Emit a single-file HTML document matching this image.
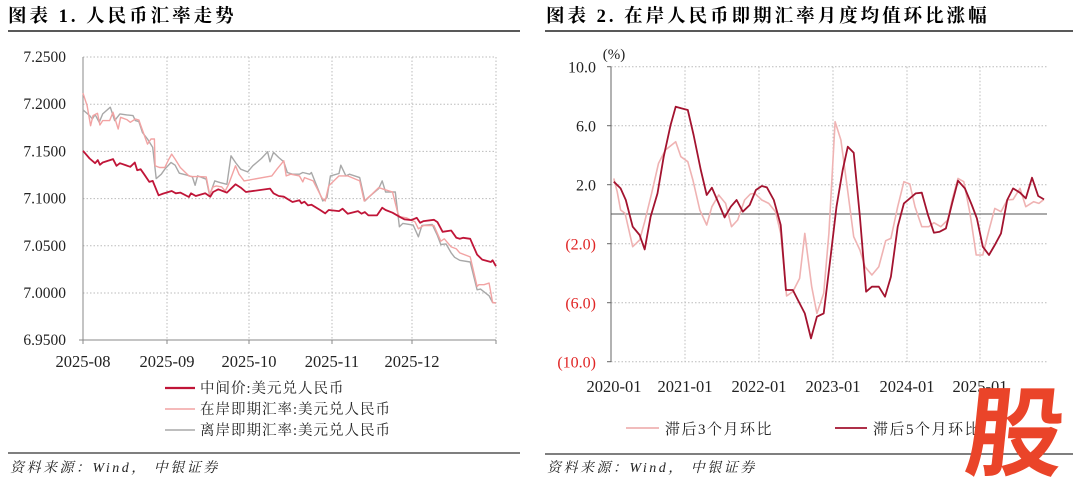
<!DOCTYPE html>
<html><head><meta charset="utf-8"><style>
body{margin:0;background:#fff;width:1080px;height:483px;overflow:hidden}
svg{display:block}
</style></head><body>
<svg id="s" width="1080" height="483" viewBox="0 0 1080 483" xmlns="http://www.w3.org/2000/svg">
<g font-family="Liberation Serif,Noto Serif CJK SC,serif" font-weight="bold" font-size="18.5" letter-spacing="3">
<text x="8" y="22">图表 1. 人民币汇率走势</text>
<text x="546" y="22">图表 2. 在岸人民币即期汇率月度均值环比涨幅</text>
</g>
<line x1="8" y1="31" x2="520" y2="31" stroke="#222" stroke-width="1.5"/>
<line x1="545" y1="31" x2="1073" y2="31" stroke="#222" stroke-width="1.5"/>
<line x1="8" y1="453" x2="520" y2="453" stroke="#333" stroke-width="1.2"/>
<line x1="545" y1="454" x2="1073" y2="454" stroke="#333" stroke-width="1.2"/>
<g font-family="Liberation Serif,Noto Serif CJK SC,serif" font-style="italic" font-size="14" fill="#222" letter-spacing="2.5">
<text x="10" y="472">资料来源：Wind， 中银证券</text>
<text x="547" y="472">资料来源：Wind， 中银证券</text>
</g>
<g id="L"></g><g id="R"></g>
<text x="965" y="468" font-size="98" font-weight="bold" fill="#ea4429" font-family="Noto Sans CJK SC,sans-serif" transform="skewX(-6) translate(47,0)">股</text>
</svg>
<script>
var NS="http://www.w3.org/2000/svg";
function el(p,t,a,txt){var e=document.createElementNS(NS,t);for(var k in a)e.setAttribute(k,a[k]);if(txt!==undefined)e.textContent=txt;p.appendChild(e);return e;}
var L=document.getElementById('L'),R=document.getElementById('R');
var F="Liberation Serif,Noto Serif CJK SC,serif";
var lx=function(z){return 83+(z-243)/2.898}, ly=function(z){return 57+(z-175)/2.986};
var ys=['7.2500','7.2000','7.1500','7.1000','7.0500','7.0000','6.9500'];
var xt=[83,167,249,332,412,496];
for(var i=0;i<7;i++){var y=57+i*47.2;
 if(i<6)el(L,'line',{x1:83,y1:y,x2:496,y2:y,stroke:'#bbb','stroke-width':1,'stroke-dasharray':'1.5,2'});
 el(L,'text',{x:66,y:y+5,'font-size':15.5,'text-anchor':'end','font-family':F,fill:'#222'},ys[i]);}
for(var i=1;i<6;i++)el(L,'line',{x1:xt[i],y1:57,x2:xt[i],y2:340,stroke:'#bbb','stroke-width':1,'stroke-dasharray':'1.5,2'});
el(L,'line',{x1:83,y1:57,x2:83,y2:344,stroke:'#888','stroke-width':1});
el(L,'line',{x1:79,y1:340,x2:496,y2:340,stroke:'#888','stroke-width':1});
for(var i=0;i<6;i++)el(L,'line',{x1:xt[i],y1:340,x2:xt[i],y2:344,stroke:'#888'});
['2025-08','2025-09','2025-10','2025-11','2025-12'].forEach(function(s,i){el(L,'text',{x:xt[i],y:367,'font-size':16.5,'text-anchor':'middle','font-family':F,fill:'#222'},s)});
function pl(p,pts,fx,fy,c,w){var s=pts.map(function(q){return fx(q[0]).toFixed(1)+','+fy(q[1]).toFixed(1)}).join(' ');el(p,'polyline',{points:s,fill:'none',stroke:c,'stroke-width':w,'stroke-linejoin':'round'});}
var gray=[[243,333],[262,350],[270,360],[278,347],[290,370],[300,345],[322,325],[335,365],[350,345],[370,348],[388,350],[395,365],[405,368],[415,400],[430,420],[445,445],[455,538],[470,525],[480,510],[498,490],[510,498],[522,522],[545,528],[560,533],[568,558],[575,530],[600,540],[610,588],[625,545],[640,550],[660,555],[672,470],[685,490],[700,510],[720,518],[735,500],[760,478],[778,458],[785,488],[795,460],[810,475],[825,488],[835,520],[850,525],[870,525],[880,520],[900,525],[905,520],[930,585],[938,605],[950,595],[960,530],[985,523],[990,498],[1005,530],[1015,525],[1045,535],[1060,605],[1075,590],[1100,568],[1110,545],[1120,578],[1148,578],[1160,682],[1170,672],[1200,677],[1215,712],[1225,678],[1255,675],[1270,708],[1280,735],[1295,733],[1310,760],[1320,773],[1335,782],[1365,787],[1385,870],[1395,868],[1420,888],[1430,908],[1440,910]];
var pink=[[243,283],[255,320],[265,380],[272,350],[285,343],[292,378],[300,365],[320,365],[330,340],[345,390],[352,355],[370,362],[380,370],[395,360],[405,363],[410,378],[430,435],[440,420],[450,420],[452,500],[465,505],[480,505],[492,480],[500,465],[510,480],[525,505],[550,530],[560,532],[580,532],[600,533],[610,585],[620,563],[630,560],[645,563],[655,575],[665,555],[685,500],[695,525],[710,545],[790,530],[805,510],[825,485],[832,530],[845,525],[870,530],[880,548],[885,535],[910,545],[935,595],[945,605],[955,560],[985,530],[1010,530],[1045,545],[1058,605],[1080,585],[1100,565],[1115,570],[1140,578],[1155,640],[1160,652],[1180,655],[1205,667],[1215,688],[1230,678],[1260,678],[1280,725],[1290,718],[1310,742],[1325,748],[1335,760],[1365,772],[1385,860],[1390,855],[1405,855],[1420,850],[1430,908],[1440,910]];
var mid=[[243,455],[262,478],[278,492],[286,483],[292,497],[300,490],[330,480],[340,500],[350,492],[380,503],[393,490],[400,513],[410,510],[420,525],[435,548],[445,545],[462,588],[475,583],[500,575],[512,582],[525,580],[550,593],[556,582],[570,590],[597,582],[612,592],[620,578],[635,570],[660,580],[685,555],[700,565],[715,578],[785,568],[795,582],[810,590],[825,592],[850,608],[870,603],[876,612],[885,607],[895,618],[905,616],[930,632],[945,642],[955,632],[985,635],[995,628],[1010,643],[1040,635],[1050,643],[1060,638],[1070,648],[1095,648],[1110,625],[1120,632],[1140,640],[1160,652],[1175,660],[1195,662],[1210,655],[1220,670],[1230,665],[1260,661],[1270,668],[1285,697],[1310,693],[1325,715],[1335,718],[1345,715],[1365,718],[1385,765],[1400,780],[1425,787],[1430,782],[1440,800]];
pl(L,gray,lx,ly,'#a8a8a8',1.4);pl(L,pink,lx,ly,'#f2a3a3',1.4);pl(L,mid,lx,ly,'#c01538',1.8);
var lg=[['中间价:美元兑人民币','#c01538',2.2],['在岸即期汇率:美元兑人民币','#f2a3a3',1.5],['离岸即期汇率:美元兑人民币','#a8a8a8',1.5]];
lg.forEach(function(a,i){var y=388+i*21;el(L,'line',{x1:165,y1:y,x2:195,y2:y,stroke:a[1],'stroke-width':a[2]});el(L,'text',{x:200,y:y+5,'font-size':14.5,'letter-spacing':1,'font-family':F,fill:'#222'},a[0]);});
var rx=function(z){return 611+(z-207)/2.905}, ry=function(z){return 66.7+(z-200)/3.0};
var rl=['10.0','6.0','2.0','(2.0)','(6.0)','(10.0)'];
for(var i=0;i<6;i++){var y=66.7+i*59;
 el(R,'line',{x1:611,y1:y,x2:1047,y2:y,stroke:'#bbb','stroke-width':1,'stroke-dasharray':'1.5,2'});
 el(R,'text',{x:596,y:y+6,'font-size':16,'text-anchor':'end','font-family':F,fill:i<3?'#222':'#e02424'},rl[i]);
 el(R,'line',{x1:607,y1:y,x2:611,y2:y,stroke:'#666'});}
var gx=[685,759,833,907,980];
gx.forEach(function(x){el(R,'line',{x1:x,y1:66.7,x2:x,y2:362,stroke:'#bbb','stroke-width':1,'stroke-dasharray':'1.5,2'})});
el(R,'line',{x1:611,y1:66.7,x2:611,y2:362,stroke:'#666'});
el(R,'line',{x1:611,y1:214,x2:1047,y2:214,stroke:'#555','stroke-width':1});
['2020-01','2021-01','2022-01','2023-01','2024-01','2025-01'].forEach(function(s,i){el(R,'text',{x:[614].concat(gx)[i],y:392,'font-size':16.5,'text-anchor':'middle','font-family':F,fill:'#222'},s)});
el(R,'text',{x:614,y:59,'font-size':15,'text-anchor':'middle','font-family':F,fill:'#222'},'(%)');
var lt=[[215,535],[225,575],[235,630],[248,640],[270,740],[290,720],[305,665],[325,580],[345,490],[365,450],[395,425],[410,470],[430,485],[445,540],[465,630],[485,675],[500,620],[520,585],[540,610],[557,680],[575,660],[595,600],[612,582],[625,580],[645,600],[665,610],[685,635],[700,700],[717,888],[735,875],[755,835],[770,700],[790,860],[805,940],[825,880],[840,700],[858,365],[875,420],[895,575],[912,710],[930,750],[945,800],[965,825],[985,800],[1005,722],[1020,715],[1040,620],[1058,545],[1075,552],[1090,620],[1110,680],[1130,680],[1145,668],[1165,680],[1185,660],[1198,600],[1215,535],[1232,545],[1250,640],[1268,765],[1287,765],[1305,690],[1322,625],[1340,635],[1358,600],[1375,598],[1395,565],[1412,620],[1435,605],[1450,610],[1465,598]];
var dk=[[215,545],[235,565],[250,600],[270,680],[290,705],[305,748],[322,650],[342,580],[360,470],[380,375],[395,320],[412,325],[430,330],[447,405],[468,510],[485,585],[500,563],[520,610],[537,652],[555,620],[572,600],[590,635],[610,615],[628,570],[645,558],[660,562],[680,600],[700,675],[715,870],[735,870],[750,900],[770,940],[788,1015],[805,950],[825,940],[845,770],[862,620],[880,510],[895,440],[912,458],[930,650],[948,875],[965,860],[985,860],[1003,890],[1020,830],[1040,680],[1058,610],[1075,595],[1092,580],[1110,578],[1128,645],[1145,698],[1162,695],[1180,685],[1198,610],[1215,542],[1235,565],[1255,615],[1270,655],[1287,740],[1305,765],[1322,735],[1340,700],[1358,600],[1375,565],[1395,578],[1412,595],[1430,533],[1448,588],[1465,598]];
pl(R,lt,rx,ry,'#efb3b3',1.6);pl(R,dk,rx,ry,'#a3132f',1.8);
el(R,'line',{x1:626,y1:428,x2:659,y2:428,stroke:'#efb3b3','stroke-width':1.8});
el(R,'text',{x:665,y:434,'font-size':15,'letter-spacing':1.5,'font-family':F,fill:'#222'},'滞后3个月环比');
el(R,'line',{x1:835,y1:428,x2:867,y2:428,stroke:'#a3132f','stroke-width':1.8});
el(R,'text',{x:873,y:434,'font-size':15,'letter-spacing':1.5,'font-family':F,fill:'#222'},'滞后5个月环比');
var s=document.getElementById('s');var w=s.querySelector('text[fill="#ea4429"]');s.appendChild(w);
</script>
</body></html>
